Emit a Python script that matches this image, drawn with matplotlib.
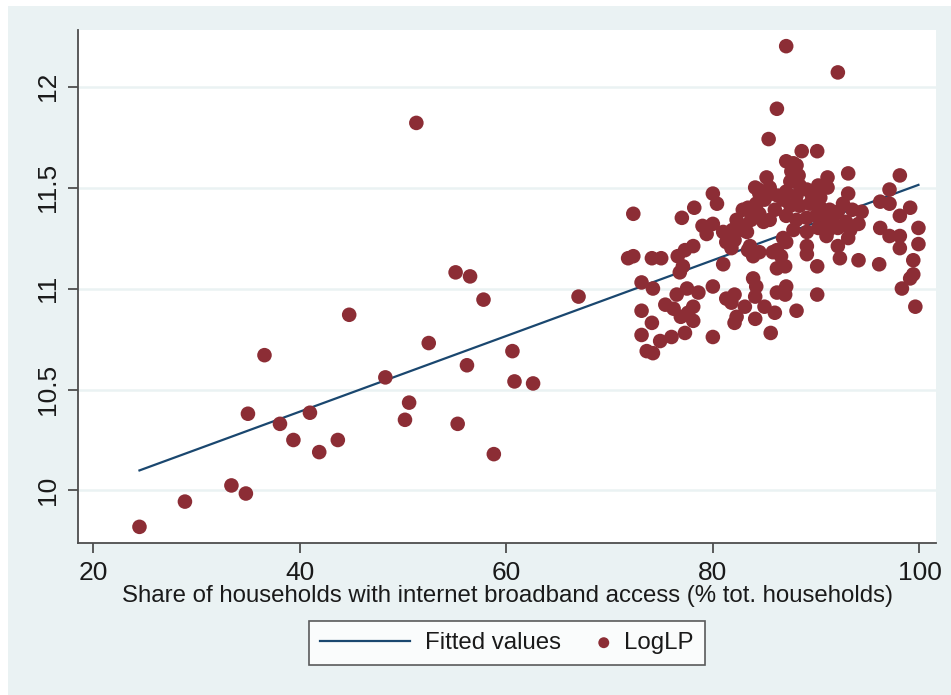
import numpy as np
import matplotlib.pyplot as plt
from matplotlib.patches import Rectangle
from matplotlib.legend_handler import HandlerPathCollection

plt.rcParams['font.family'] = ['Liberation Sans', 'DejaVu Sans']

# Regions with low broadband coverage (share %, log labour productivity)
low_points = [
    (24.5, 9.82), (28.9, 9.945), (33.4, 10.025), (34.8, 9.985), (35.0, 10.38),
    (36.6, 10.67), (38.1, 10.33), (39.4, 10.25), (41.0, 10.385), (41.9, 10.19),
    (43.7, 10.25), (44.8, 10.87), (48.3, 10.56), (50.2, 10.35), (50.6, 10.435),
    (51.3, 11.82), (52.5, 10.73), (55.1, 11.08), (55.3, 10.33), (56.5, 11.06),
    (56.2, 10.62), (57.8, 10.945), (58.8, 10.18), (60.6, 10.69), (60.8, 10.54),
    (62.6, 10.53), (67.0, 10.96),
]

# High coverage regions, upper and right edge
upper_points = [
    (87.1, 12.20), (92.1, 12.07), (86.2, 11.89), (85.4, 11.74), (90.1, 11.68), (88.6, 11.68),
    (87.1, 11.63), (87.8, 11.62), (88.1, 11.61), (87.6, 11.58), (88.3, 11.56),
    (93.1, 11.57), (98.1, 11.56), (85.2, 11.55), (91.1, 11.55), (91.1, 11.50), (90.2, 11.51),
    (89.1, 11.49), (97.1, 11.49), (93.1, 11.47), (96.2, 11.43), (97.1, 11.42), (99.1, 11.40),
    (98.1, 11.36), (72.3, 11.37), (77.0, 11.35), (78.2, 11.40), (80.0, 11.47), (80.4, 11.42),
    (99.9, 11.30), (96.2, 11.30), (97.1, 11.26), (98.1, 11.26), (98.1, 11.20), (99.9, 11.22),
    (94.1, 11.32), (93.1, 11.25), (92.1, 11.21), (99.4, 11.14), (94.1, 11.14), (96.1, 11.12),
    (90.1, 11.11), (89.1, 11.17), (99.4, 11.07), (99.1, 11.05), (98.3, 11.00), (99.6, 10.91),
    (90.1, 10.97), (88.1, 10.89), (85.6, 10.78), (80.0, 10.76),
]

# High coverage regions, lower-left part of the cloud
left_points = [
    (72.3, 11.16), (71.8, 11.15), (74.1, 11.15), (75.0, 11.15), (73.1, 11.03), (74.2, 11.00),
    (73.1, 10.89), (74.1, 10.83), (73.1, 10.77), (74.9, 10.74), (76.0, 10.76), (73.6, 10.69),
    (74.2, 10.68), (76.6, 11.16), (77.3, 11.19), (78.1, 11.21), (77.1, 11.11), (76.8, 11.08),
    (76.5, 10.97), (77.5, 11.00), (78.6, 10.98), (78.1, 10.91), (77.6, 10.88), (77.3, 10.78),
    (78.1, 10.84), (75.4, 10.92), (76.2, 10.90), (76.9, 10.86),
    (79.0, 11.31), (80.0, 11.32), (79.4, 11.27), (81.0, 11.28), (81.5, 11.25), (81.3, 11.23),
    (81.8, 11.20), (82.3, 11.34), (82.8, 11.31), (83.3, 11.28), (82.9, 11.39), (81.0, 11.12),
    (80.0, 11.01), (81.3, 10.95), (82.1, 10.97), (81.8, 10.93), (82.3, 10.86), (82.1, 10.83),
    (83.1, 10.91), (84.1, 10.85), (83.9, 11.05), (84.2, 11.01), (84.1, 10.96), (85.0, 10.91),
    (86.0, 10.88), (86.2, 10.98), (87.1, 11.01), (87.0, 10.97), (86.2, 11.10), (87.0, 11.11),
    (86.6, 11.16), (86.2, 11.19), (87.1, 11.23), (83.4, 11.19), (83.9, 11.16), (83.6, 11.21),
    (89.1, 11.21), (89.1, 11.28), (91.0, 11.26), (91.6, 11.34),
]

# Dense core of the cloud
core_points = [
    (87.5, 11.41), (88.4, 11.41), (89.4, 11.42), (90.4, 11.40), (91.3, 11.39), (92.1, 11.38),
    (87.1, 11.36), (88.1, 11.34), (89.1, 11.35), (90.0, 11.36), (91.0, 11.35), (91.8, 11.37),
    (92.9, 11.33), (93.3, 11.29), (92.1, 11.30), (91.2, 11.29), (90.2, 11.30), (87.8, 11.29),
    (86.8, 11.25), (87.1, 11.48), (86.8, 11.44), (88.1, 11.46), (92.3, 11.15),
    (81.9, 11.29), (82.9, 11.29), (82.1, 11.24), (83.7, 11.34), (83.4, 11.40), (84.2, 11.39),
    (84.9, 11.33), (85.5, 11.34), (84.5, 11.18), (85.8, 11.18),
    (84.4, 11.49), (85.5, 11.50), (86.3, 11.46), (85.0, 11.44), (86.0, 11.39), (84.5, 11.37),
    (87.5, 11.53), (88.4, 11.51), (89.6, 11.46), (90.4, 11.45), (92.6, 11.42), (93.5, 11.39),
    (94.4, 11.38), (84.1, 11.50), (84.5, 11.47), (85.7, 11.47), (84.2, 11.42),
]

# Linear fit: LogLP = a + b * share
fit_intercept = 9.64
fit_slope = 0.01875

xticks = [20, 40, 60, 80, 100]
yticks = [10, 10.5, 11, 11.5, 12]
ytick_labels = ['10', '10.5', '11', '11.5', '12']

points = np.array(low_points + upper_points + left_points + core_points)
share = points[:, 0]
loglp = points[:, 1]
fit_x = np.sort(share)
fit_y = fit_intercept + fit_slope * fit_x

bg = '#EAF2F3'
dot = '#8C2D35'
navy = '#1A476F'
axis_col = '#4D4D4D'
txt = '#1a1a1a'


class DotAtRight(HandlerPathCollection):
    # put the legend marker at the right end of its handle box, next to the label
    def get_xdata(self, legend, xdescent, ydescent, width, height, fontsize):
        x = [-xdescent + width - 4]
        return x, x


fig = plt.figure(figsize=(9.51, 6.95), dpi=100)
fig.patch.set_facecolor('white')
# graph region sits a few pixels in from the top-left corner
panel = Rectangle((8 / 951, 0), 1, 1 - 6 / 695, transform=fig.transFigure,
                  facecolor=bg, edgecolor='none', zorder=-10)
fig.add_artist(panel)

ax = fig.add_axes([78 / 951, 152 / 695, 858 / 951, 513 / 695])
ax.set_zorder(1)
ax.set_facecolor('white')

ax.plot(fit_x, fit_y, color=navy, lw=1.6, zorder=2, label='Fitted values')
sc = ax.scatter(share, loglp, s=110, color=dot, edgecolors='none', zorder=3, label='LogLP')

ax.set_xlim(18.55, 101.6)
ax.set_ylim(9.74, 12.28)
ax.set_xticks(xticks)
ax.set_yticks(yticks)
ax.set_yticklabels(ytick_labels, rotation=90, va='center')

ax.grid(axis='y', color=bg, lw=1.8)
ax.set_axisbelow(True)
for side in ('top', 'right'):
    ax.spines[side].set_visible(False)
for side in ('left', 'bottom'):
    ax.spines[side].set_color(axis_col)
    ax.spines[side].set_linewidth(1.3)
ax.tick_params(axis='both', length=7, width=1.3, color=axis_col,
               labelsize=19, labelcolor=txt)
ax.tick_params(axis='x', pad=6)
ax.tick_params(axis='y', pad=6)

ax.set_xlabel('Share of households with internet broadband access (% tot. households)',
              fontsize=17.3, color=txt, labelpad=0)

leg = ax.legend(loc='center', bbox_to_anchor=(507 / 951, 52 / 695),
                bbox_transform=fig.transFigure, ncol=2, fontsize=17.3,
                frameon=True, fancybox=False, handlelength=3.75, handletextpad=0.62,
                columnspacing=-1.75, borderpad=0.45, scatterpoints=1, markerscale=0.75,
                handler_map={sc: DotAtRight()})
leg.get_frame().set_edgecolor('#333333')
leg.get_frame().set_linewidth(1.2)
leg.get_frame().set_facecolor('white')
for t in leg.get_texts():
    t.set_color(txt)

fig.savefig('out.png', dpi=100, facecolor=fig.get_facecolor())
